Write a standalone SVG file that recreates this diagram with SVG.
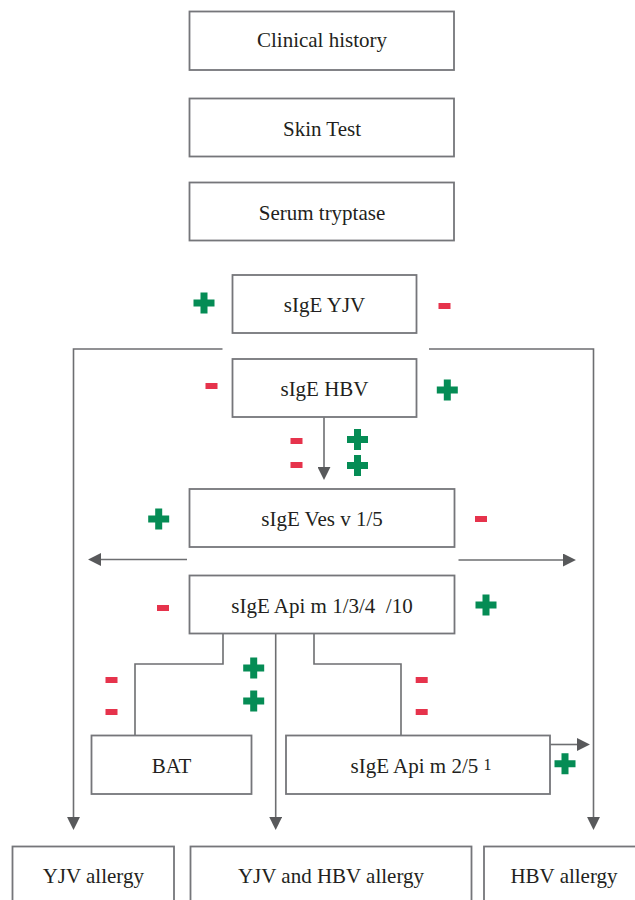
<svg xmlns="http://www.w3.org/2000/svg" width="635" height="900" viewBox="0 0 635 900">
<style>
.box{fill:#ffffff;stroke:#75767a;stroke-width:1.8}
.t{font-family:"Liberation Serif","Times New Roman",serif;font-size:21px;fill:#231f20;text-anchor:middle}
.ln{fill:none;stroke:#6d6e71;stroke-width:1.6}
.plus{fill:#058c55}
.minus{fill:#e6334c}
</style>
<defs>
<marker id="ah" markerUnits="userSpaceOnUse" markerWidth="13" markerHeight="13" viewBox="0 0 12 12" refX="1" refY="6" orient="auto">
<path d="M0,0 L12,6 L0,12 z" fill="#58595b"/>
</marker>
<path id="p" d="M-3.5,-10.5 h7 v7 h7 v7 h-7 v7 h-7 v-7 h-7 v-7 h7 z"/>
<rect id="m" x="-6" y="-3" width="12" height="6"/>
</defs>
<rect width="635" height="900" fill="#ffffff"/>

<g id="connectors">
<path class="ln" d="M222.5,349 H73.5 V818" marker-end="url(#ah)"/>
<path class="ln" d="M429,349 H593.5 V818" marker-end="url(#ah)"/>
<path class="ln" d="M324,417 V468" marker-end="url(#ah)"/>
<path class="ln" d="M187,559.5 H100" marker-end="url(#ah)"/>
<path class="ln" d="M458.5,560 H564" marker-end="url(#ah)"/>
<path class="ln" d="M223,634 V664 H135 V735.5"/>
<path class="ln" d="M314,634 V664 H401 V735.5"/>
<path class="ln" d="M275.7,634 V818" marker-end="url(#ah)"/>
<path class="ln" d="M550,744.5 H578" marker-end="url(#ah)"/>
</g>

<g id="clinical-history">
<rect class="box" x="189.5" y="11.5" width="264.5" height="58.5"/>
<text class="t" x="322" y="47">Clinical history</text>
</g>
<g id="skin-test">
<rect class="box" x="189.5" y="98.5" width="264.5" height="58"/>
<text class="t" x="322" y="136">Skin Test</text>
</g>
<g id="serum-tryptase">
<rect class="box" x="189.5" y="182.5" width="264.5" height="58"/>
<text class="t" x="322" y="220">Serum tryptase</text>
</g>
<g id="sige-yjv">
<rect class="box" x="232.5" y="275" width="184" height="58"/>
<text class="t" x="324.5" y="312.3">sIgE YJV</text>
</g>
<g id="sige-hbv">
<rect class="box" x="232.5" y="359" width="184" height="58"/>
<text class="t" x="324.5" y="396">sIgE HBV</text>
</g>
<g id="sige-ves">
<rect class="box" x="189.5" y="489" width="265" height="58"/>
<text class="t" x="322" y="526">sIgE Ves v 1/5</text>
</g>
<g id="sige-api">
<rect class="box" x="189.5" y="575.5" width="265" height="58"/>
<text class="t" x="322" y="612.5" xml:space="preserve">sIgE Api m 1/3/4  /10</text>
</g>
<g id="bat">
<rect class="box" x="91.5" y="735.5" width="160" height="58.5"/>
<text class="t" x="171.5" y="772.5">BAT</text>
</g>
<g id="sige-api-25">
<rect class="box" x="286" y="735.5" width="264" height="58.5"/>
<text class="t" x="421" y="772.5">sIgE Api m 2/5 <tspan font-size="16" dy="-2.5">1</tspan></text>
</g>
<g id="yjv-allergy">
<rect class="box" x="12.5" y="846.5" width="161.5" height="70"/>
<text class="t" x="93.3" y="883.3">YJV allergy</text>
</g>
<g id="yjv-hbv-allergy">
<rect class="box" x="190.5" y="846.5" width="281" height="70"/>
<text class="t" x="331" y="883.3">YJV and HBV allergy</text>
</g>
<g id="hbv-allergy">
<rect class="box" x="484" y="846.5" width="160" height="70"/>
<text class="t" x="564" y="883.3">HBV allergy</text>
</g>

<g id="signs">
<use href="#p" class="plus" x="204" y="303"/>
<use href="#p" class="plus" x="447.3" y="390"/>
<use href="#p" class="plus" x="357.5" y="439.5"/>
<use href="#p" class="plus" x="357.5" y="465.5"/>
<use href="#p" class="plus" x="158.7" y="519"/>
<use href="#p" class="plus" x="486" y="605"/>
<use href="#p" class="plus" x="253.7" y="668"/>
<use href="#p" class="plus" x="253.7" y="701"/>
<use href="#p" class="plus" x="565" y="763.7"/>
<use href="#m" class="minus" x="444.5" y="306"/>
<use href="#m" class="minus" x="211.5" y="386"/>
<use href="#m" class="minus" x="296.5" y="441"/>
<use href="#m" class="minus" x="296.5" y="465"/>
<use href="#m" class="minus" x="481" y="519"/>
<use href="#m" class="minus" x="163" y="608"/>
<use href="#m" class="minus" x="111.5" y="680"/>
<use href="#m" class="minus" x="111.5" y="712"/>
<use href="#m" class="minus" x="421.7" y="680"/>
<use href="#m" class="minus" x="421.7" y="712"/>
</g>
</svg>
